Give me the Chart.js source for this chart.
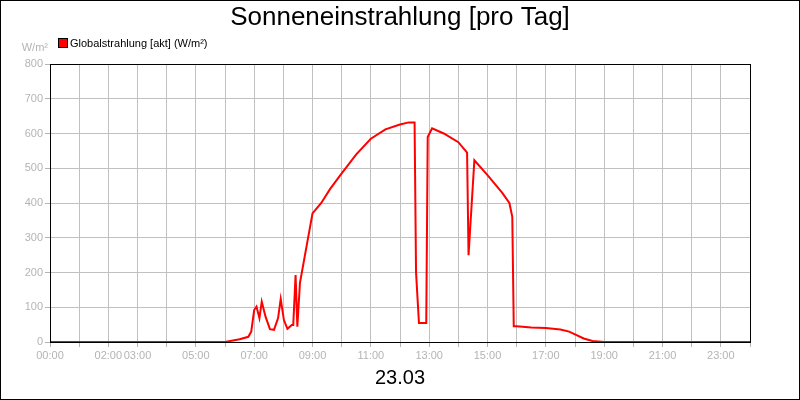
<!DOCTYPE html>
<html><head><meta charset="utf-8">
<script src="https://cdn.jsdelivr.net/npm/chart.js@4"></script>
<style>html,body{margin:0;padding:0;background:#fff}#w{width:800px;height:400px;position:relative}</style>
</head><body><div id="w"><canvas id="c"></canvas></div>
<script>
const hours = [0,6.0,6.5,6.8,6.9,7.0,7.08,7.18,7.26,7.39,7.54,7.68,7.82,7.91,8.02,8.14,8.29,8.34,8.42,8.48,8.57,9.0,9.3,9.6,10.0,10.5,11.0,11.5,12.0,12.3,12.5,12.55,12.65,12.9,12.95,13.1,13.5,14.0,14.3,14.35,14.55,15.0,15.5,15.75,15.85,15.9,16.0,16.5,17.0,17.5,17.8,18.0,18.3,18.6,19.0,24];
const values = [0,0,8,15,30,92,102,69,116,73,37,35,69,124,63,38,49,49,193,44,170,370,400,440,485,540,585,612,626,632,632,200,55,55,590,615,600,575,545,250,523,480,430,400,360,45,45,42,40,36,30,22,10,3,0,0];
const xLabelHours = [0,2,3,5,7,9,11,13,15,17,19,21,23];
const yTicks = [0,100,200,300,400,500,600,700,800];
const seriesName = 'Globalstrahlung [akt] (W/m²)';
const titleText = 'Sonneneinstrahlung [pro Tag]';
const dateText = '23.03';
const unitText = 'W/m²';

const deco = {
  id:'deco',
  afterDraw(ch){
    const c=ch.ctx, a=ch.chartArea;
    c.save();
    c.strokeStyle='#000';c.lineWidth=1;
    c.strokeRect(a.left+0.5,a.top+0.5,a.right-a.left,a.bottom-a.top);
    c.strokeRect(0.5,0.5,799,399);
    c.fillStyle='#000';c.textAlign='center';c.textBaseline='middle';
    c.font='26px "Liberation Sans", Arial, sans-serif';
    c.fillText(titleText,400,18);
    c.font='20px "Liberation Sans", Arial, sans-serif';
    c.fillText(dateText,400,378);
    c.fillStyle='#f00';c.fillRect(59,39,8,8);c.strokeRect(58.5,38.5,9,9);
    c.fillStyle='#000';c.textAlign='left';c.font='11px "Liberation Sans", Arial, sans-serif';
    c.fillText(seriesName,70,44);
    c.fillStyle='#b4b4b4';c.textAlign='right';
    c.fillText(unitText,48,48);
    c.restore();
  }
};

new Chart(document.getElementById('c'),{
  type:'line',
  data:{datasets:[{label:seriesName,data:hours.map((h,i)=>({x:h,y:values[i]})),borderColor:'#ff0000',borderWidth:2,pointRadius:0,tension:0,fill:false}]},
  options:{
    responsive:true,maintainAspectRatio:false,animation:false,
    layout:{padding:{top:64,right:50,left:0,bottom:0}},
    plugins:{legend:{display:false},tooltip:{enabled:false}},
    scales:{
      x:{type:'linear',min:0,max:24,
        afterFit(s){s.height=58;},
        afterBuildTicks(s){s.ticks=Array.from({length:25},(_,i)=>({value:i}));},
        ticks:{autoSkip:false,maxRotation:0,color:'#b4b4b4',font:{family:'"Liberation Sans", Arial',size:11},padding:2,
          callback(v){return xLabelHours.includes(v)?String(v).padStart(2,'0')+':00':'';}},
        grid:{color:'#c0c0c0',tickColor:'#b4b4b4',tickLength:5},
        border:{color:'#000',width:1}},
      y:{min:0,max:800,
        afterFit(s){s.width=50;},
        afterBuildTicks(s){s.ticks=yTicks.map(v=>({value:v}));},
        ticks:{color:'#b4b4b4',font:{family:'"Liberation Sans", Arial',size:11},padding:2},
        grid:{color:'#c0c0c0',tickColor:'#b4b4b4',tickLength:5},
        border:{color:'#000',width:1}}
    }
  },
  plugins:[deco]
});
</script></body></html>
